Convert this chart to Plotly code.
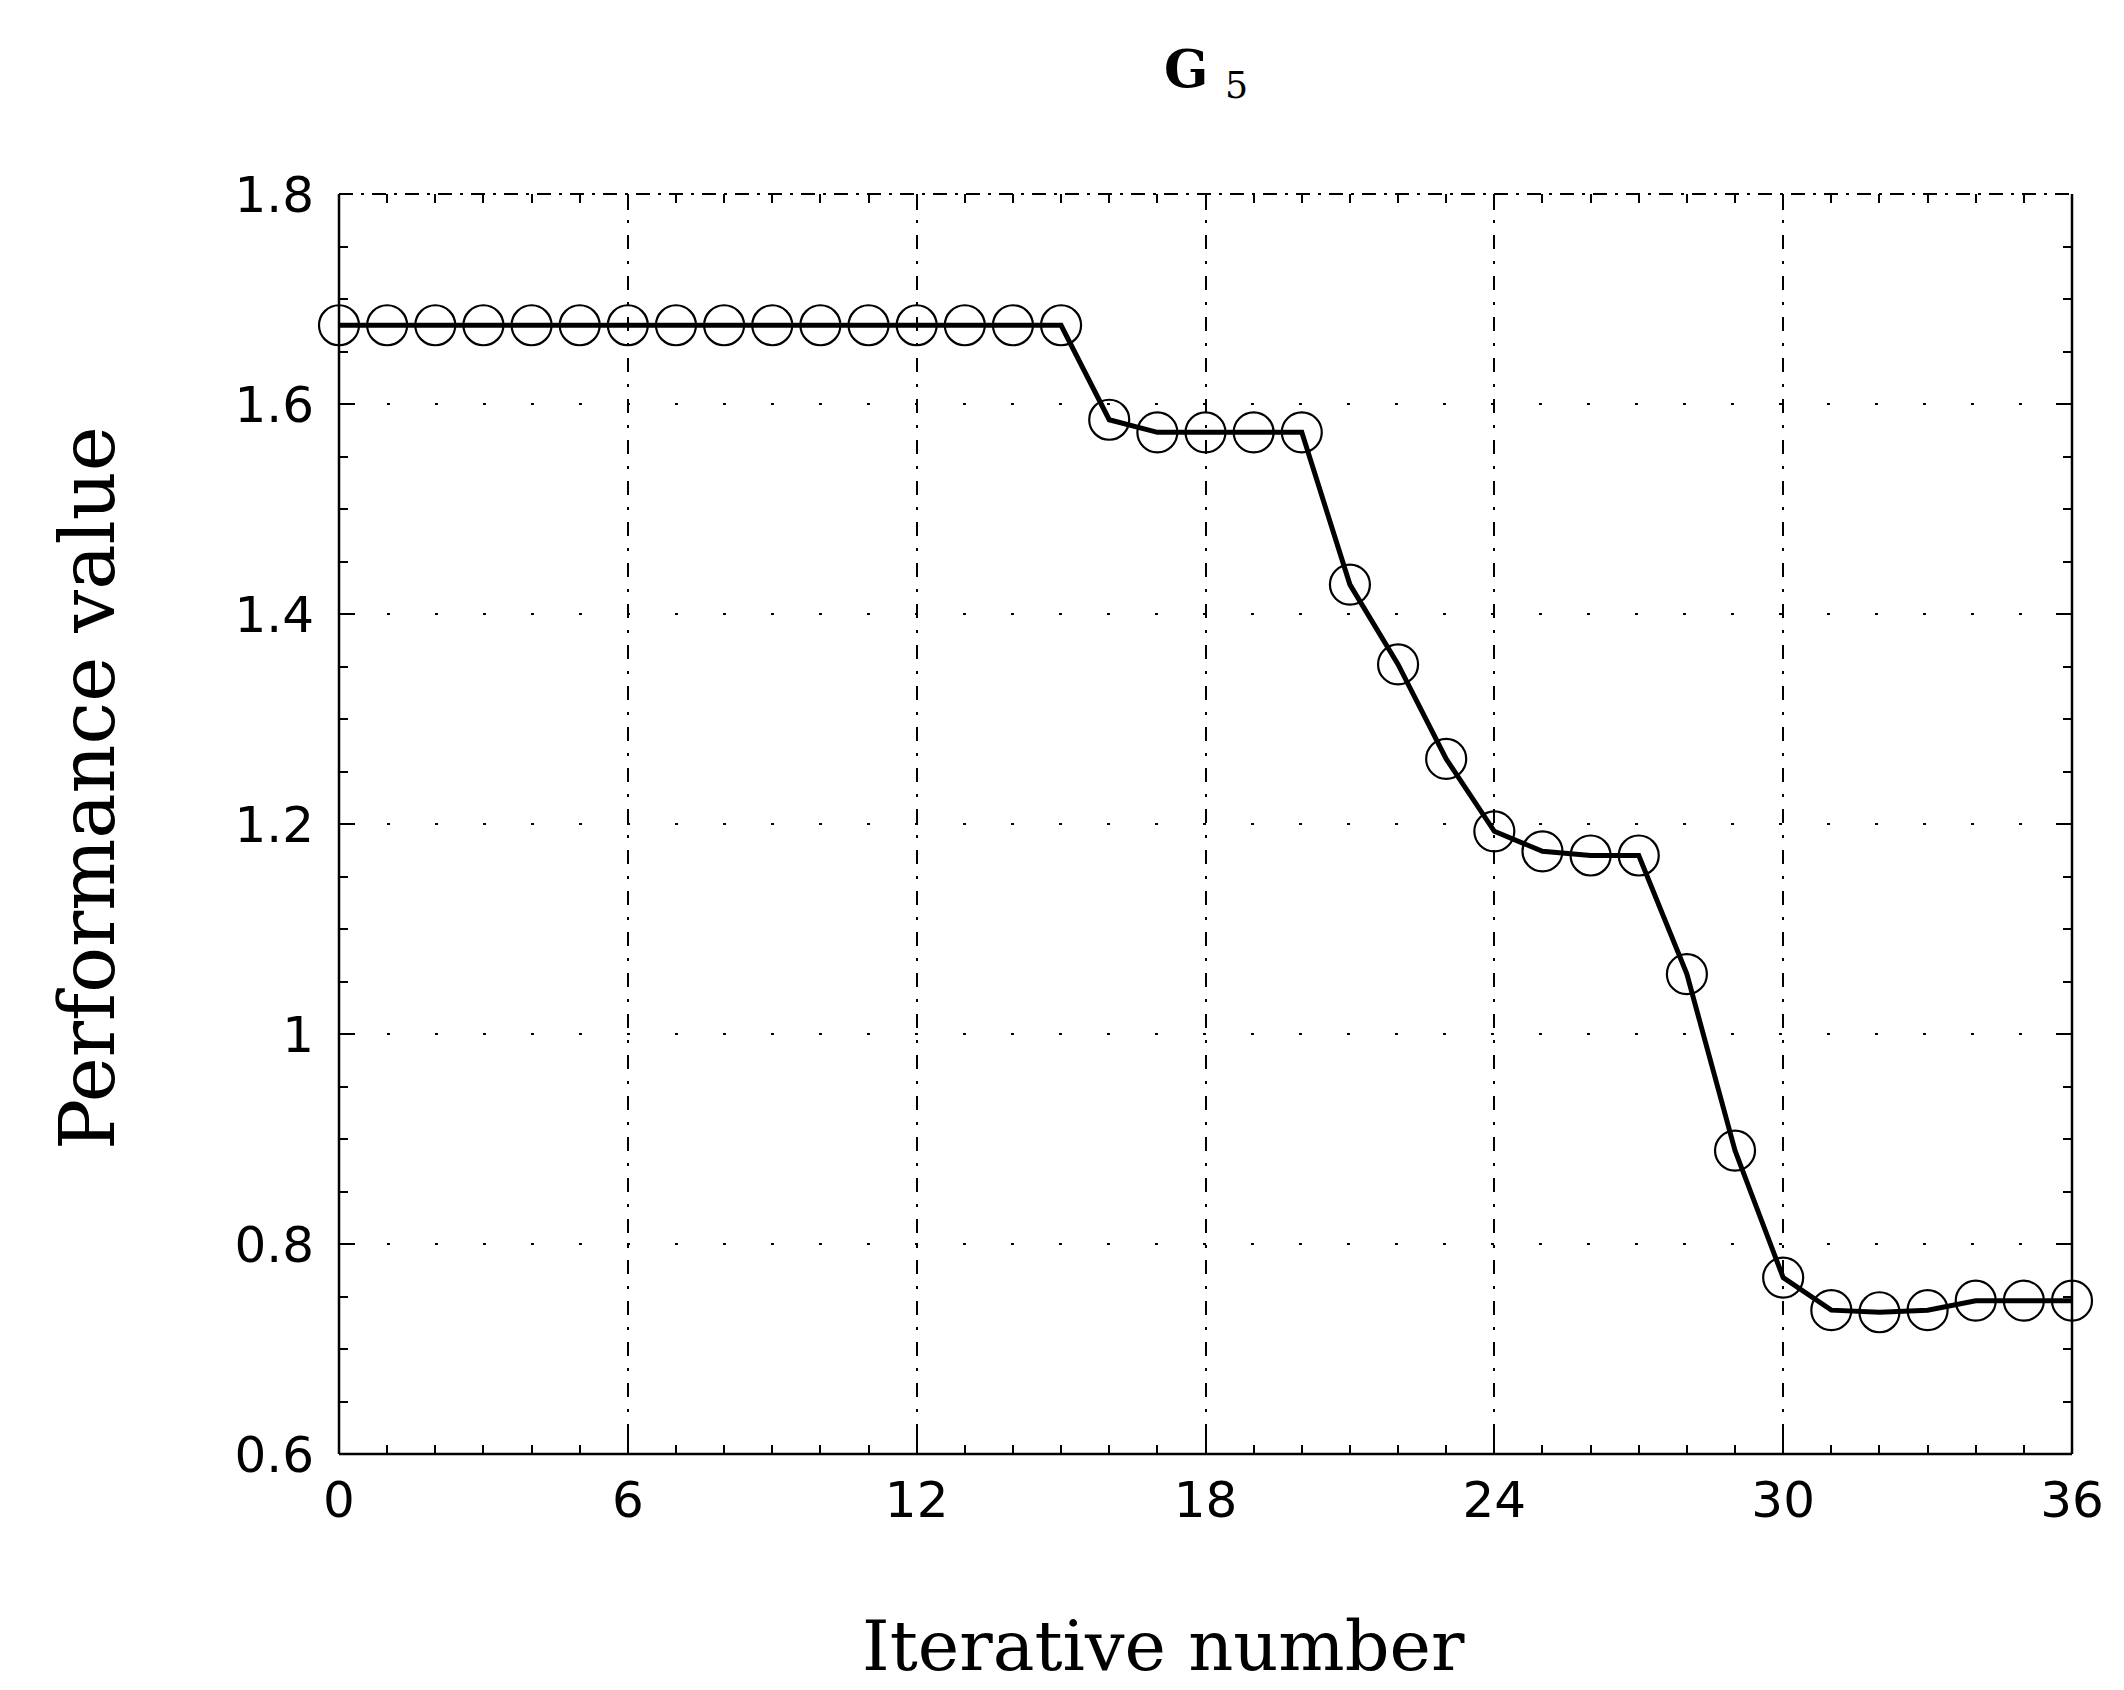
import plotly.graph_objects as go

iterations = list(range(0, 37))
performance = [1.675, 1.675, 1.675, 1.675, 1.675, 1.675, 1.675, 1.675, 1.675, 1.675,
               1.675, 1.675, 1.675, 1.675, 1.675, 1.675,
               1.585, 1.573, 1.573, 1.573, 1.573,
               1.428, 1.352, 1.262, 1.193, 1.174, 1.170, 1.170,
               1.057, 0.889, 0.768, 0.737, 0.735, 0.737, 0.746, 0.746, 0.746]

x_tickvals = [0, 6, 12, 18, 24, 30, 36]
x_ticktext = ["0", "6", "12", "18", "24", "30", "36"]
y_tickvals = [0.6, 0.8, 1.0, 1.2, 1.4, 1.6, 1.8]
y_ticktext = ["0.6", "0.8", "1", "1.2", "1.4", "1.6", "1.8"]

W, H = 2124, 1690
ML, MR, MT, MB = 331, 60, 186, 244

fig = go.Figure()
fig.add_trace(go.Scatter(
    x=iterations, y=performance, mode="lines+markers",
    line=dict(color="black", width=5),
    marker=dict(symbol="circle-open", size=40, color="black", line=dict(width=2.2, color="black")),
    cliponaxis=False, showlegend=False,
))

tickfont = dict(family="DejaVu Sans, Liberation Sans, sans-serif", size=50, color="black")
fig.update_xaxes(
    range=[0, 36], tickvals=x_tickvals, ticktext=x_ticktext, tickfont=tickfont,
    ticks="inside", ticklen=16, tickwidth=2, tickcolor="black",
    minor=dict(dtick=1, ticks="inside", ticklen=9, tickwidth=2, tickcolor="black", showgrid=False),
    showgrid=True, gridcolor="black", gridwidth=1.5, griddash="14px,12px,3px,12px",
    showline=False, mirror="allticks", zeroline=False, ticklabelstandoff=12,
)
fig.update_yaxes(
    range=[0.6, 1.8], tickvals=y_tickvals, ticktext=y_ticktext, tickfont=tickfont,
    ticks="inside", ticklen=16, tickwidth=2, tickcolor="black",
    minor=dict(dtick=0.05, tick0=0.6, ticks="inside", ticklen=9, tickwidth=2, tickcolor="black", showgrid=False),
    showgrid=True, gridcolor="black", gridwidth=1.5, griddash="3px,45px",
    showline=False, mirror="allticks", zeroline=False, ticklabelstandoff=24,
)

# frame
fig.add_shape(type="line", xref="paper", yref="paper", x0=0, x1=1, y0=1, y1=1,
              line=dict(color="black", width=2, dash="14px,8px,3px,8px"))
fig.add_shape(type="line", xref="paper", yref="paper", x0=0, x1=1, y0=0, y1=0,
              line=dict(color="black", width=2.5))
fig.add_shape(type="line", xref="paper", yref="paper", x0=0, x1=0, y0=0, y1=1,
              line=dict(color="black", width=2.5))
fig.add_shape(type="line", xref="paper", yref="paper", x0=1, x1=1, y0=0, y1=1,
              line=dict(color="black", width=2.5))

serif = "DejaVu Serif, Liberation Serif, serif"
fig.add_annotation(text="Iterative number", xref="paper", yref="paper", x=0.5, y=0,
                   xanchor="center", yanchor="middle", xshift=-42, yshift=-192, showarrow=False,
                   font=dict(family=serif, size=70, color="black"))
fig.add_annotation(text="Performance value", xref="paper", yref="paper", x=0, y=0.5,
                   xanchor="center", yanchor="middle", xshift=-252, yshift=36, textangle=-90,
                   showarrow=False, font=dict(family=serif, size=76, color="black"))
fig.add_annotation(text="<b>G</b> <sub>5</sub>", xref="paper", yref="paper", x=0.5, y=1,
                   xanchor="center", yanchor="middle", yshift=122, showarrow=False,
                   font=dict(family=serif, size=52, color="black"))

fig.update_layout(
    width=W, height=H,
    margin=dict(l=ML, r=MR, t=MT, b=MB, autoexpand=False),
    paper_bgcolor="white", plot_bgcolor="white",
)

fig.write_html("out.html")
